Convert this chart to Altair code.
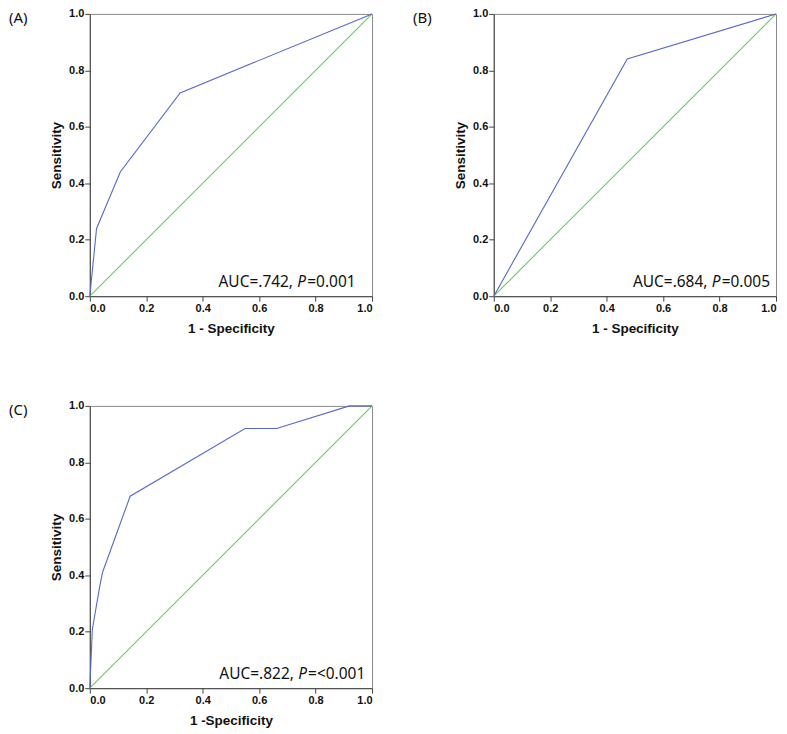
import altair as alt
import pandas as pd

# ---- data ----
a_fpr = [0.0, 0.024, 0.108, 0.32, 1.0]
a_tpr = [0.0, 0.24, 0.44, 0.72, 1.0]

b_fpr = [0.0, 0.473, 1.0]
b_tpr = [0.0, 0.84, 1.0]

c_fpr = [0.0, 0.009, 0.035, 0.045, 0.143, 0.55, 0.662, 0.92, 1.0]
c_tpr = [0.0, 0.208, 0.36, 0.41, 0.68, 0.92, 0.92, 1.0, 1.0]

ref_line = [0.0, 1.0]
tick_values = [0.0, 0.2, 0.4, 0.6, 0.8, 1.0]

labels = ["(A)", "(B)", "(C)"]
x_titles = ["1 - Specificity", "1 - Specificity", "1 -Specificity"]
auc_text = ["AUC=.742,", "AUC=.684,", "AUC=.822,"]
p_text = ["=0.001", "=0.005", "=<0.001"]

BLUE = "#5868c6"
GREEN = "#5cd15c"
TXT_FONT = "Noto Sans"
AX_FONT = "Liberation Sans"


def panel(fpr, tpr, letter, xtitle, auc, ptxt, anchor):
    df = pd.DataFrame({"fpr": fpr, "tpr": tpr, "ord": list(range(len(fpr)))})
    diag = pd.DataFrame({"fpr": ref_line, "tpr": ref_line})
    one = pd.DataFrame({"a": [auc], "p": ["P"], "v": [ptxt], "l": [letter]})

    xs = alt.Scale(domain=[0, 1], nice=False)
    ys = alt.Scale(domain=[0, 1], nice=False)
    x = alt.X("fpr:Q", scale=xs,
              axis=alt.Axis(values=tick_values, format=".1f", title=xtitle,
                            titlePadding=8))
    y = alt.Y("tpr:Q", scale=ys,
              axis=alt.Axis(values=tick_values, format=".1f", title="Sensitivity",
                            titlePadding=5))

    diag_l = alt.Chart(diag).mark_line(color=GREEN, strokeWidth=1.1).encode(x=x, y=y)
    roc = alt.Chart(df).mark_line(color=BLUE, strokeWidth=1.1).encode(
        x=x, y=y, order="ord:Q")

    base_txt = alt.Chart(one)
    t1 = base_txt.mark_text(align="left", baseline="alphabetic", font=TXT_FONT,
                            fontSize=15.5, color="#111").encode(
        x=alt.datum(anchor), y=alt.datum(0.033), text="a:N")
    t2 = base_txt.mark_text(align="left", baseline="alphabetic", font=TXT_FONT,
                            fontSize=15.5, fontStyle="italic", dx=79, color="#111").encode(
        x=alt.datum(anchor), y=alt.datum(0.033), text="p:N")
    t3 = base_txt.mark_text(align="left", baseline="alphabetic", font=TXT_FONT,
                            fontSize=15.5, dx=89, color="#111").encode(
        x=alt.datum(anchor), y=alt.datum(0.033), text="v:N")
    lab = base_txt.mark_text(align="left", baseline="top", font=TXT_FONT,
                             fontSize=15, color="#111").encode(
        x=alt.value(-81), y=alt.value(-3), text="l:N")

    return alt.layer(diag_l, roc, t1, t2, t3, lab).properties(width=283, height=283)


pA = panel(a_fpr, a_tpr, labels[0], x_titles[0], auc_text[0], p_text[0], 0.456)
pB = panel(b_fpr, b_tpr, labels[1], x_titles[1], auc_text[1], p_text[1], 0.493)
pC = panel(c_fpr, c_tpr, labels[2], x_titles[2], auc_text[2], p_text[2], 0.459)

chart = alt.vconcat(
    alt.hconcat(pA, pB, spacing=37),
    pC,
    spacing=64,
).properties(
    padding={"left": 0, "top": -2, "right": 0, "bottom": 0}
).configure_view(
    stroke="#8a8a8a", strokeWidth=1
).configure_axis(
    grid=False,
    labelFont=AX_FONT, labelFontWeight="bold", labelFontSize=11, labelColor="#111",
    labelPadding=1,
    titleFont=AX_FONT, titleFontWeight="bold", titleFontSize=13.5, titleColor="#111",
    tickColor="#444", tickSize=5, domainColor="#444", domainWidth=1,
)

chart.save("out.html", embed_options={"renderer": "svg", "actions": False})
